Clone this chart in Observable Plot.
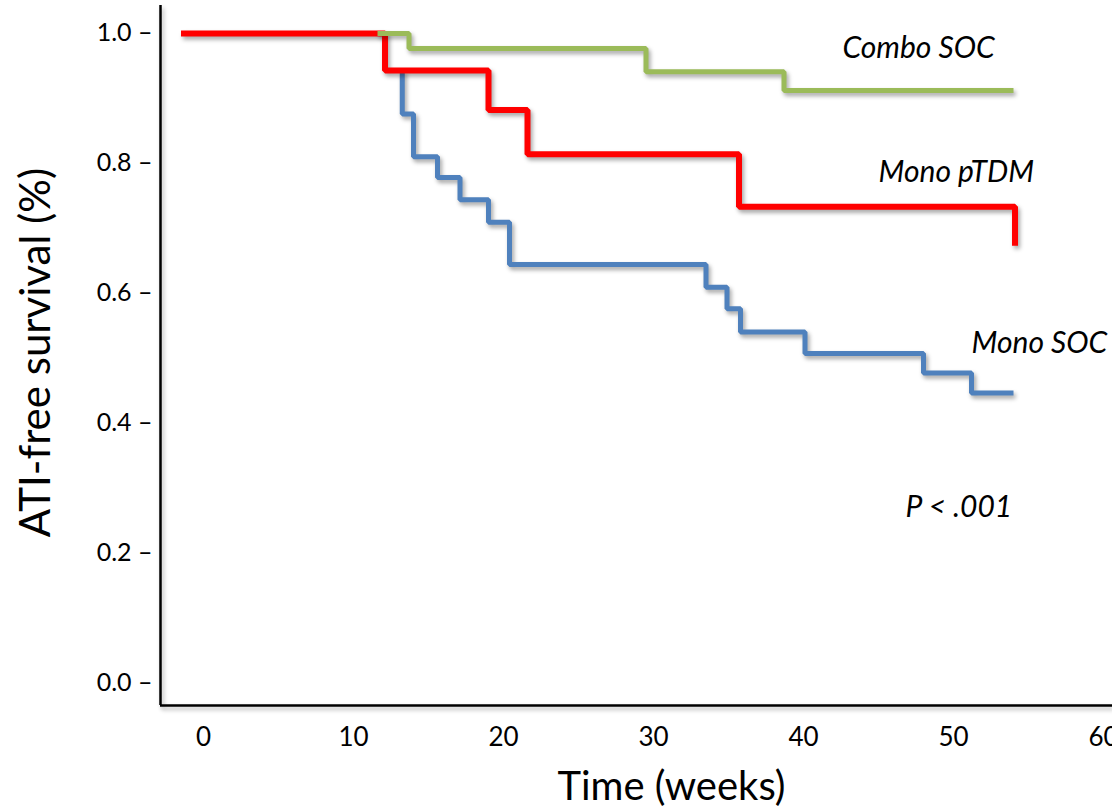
<!DOCTYPE html>
<html>
<head>
<meta charset="utf-8">
<script src="https://cdn.jsdelivr.net/npm/d3@7"></script>
<script src="https://cdn.jsdelivr.net/npm/@observablehq/plot@0.6"></script>
<style>
  html, body { margin: 0; padding: 0; background: #fff; }
  #chart svg { display: block; }
  #chart g[aria-label="line"] { filter: drop-shadow(2px 3px 2px rgba(0,0,0,0.35)); }
  #chart g[aria-label="rule"] { filter: drop-shadow(2px 3px 2px rgba(0,0,0,0.3)); }
</style>
</head>
<body>
<div id="chart"></div>
<script>
// Mono pTDM (red)
const pTDMTime = [-1.5, 12.1, 19.0, 21.6, 35.7, 54.1];
const pTDMSurv = [1.0, 0.943, 0.882, 0.814, 0.733, 0.673];
// Combo SOC (green)
const comboTime = [11.6, 13.7, 29.5, 38.7, 54.0];
const comboSurv = [1.0, 0.977, 0.941, 0.912, 0.912];
// Mono SOC (blue)
const monoSocTime = [13.25, 13.25, 14.0, 15.6, 17.1, 19.0, 20.4, 33.5, 34.9, 35.8, 40.1, 48.0, 51.2, 54.0];
const monoSocSurv = [0.943, 0.876, 0.810, 0.778, 0.744, 0.709, 0.644, 0.609, 0.576, 0.540, 0.507, 0.477, 0.446, 0.446];

const xTicks = [0, 10, 20, 30, 40, 50, 60];
const yTicks = [0.0, 0.2, 0.4, 0.6, 0.8, 1.0];

const seriesNames = ["Mono SOC", "Mono pTDM", "Combo SOC"];
const seriesColors = ["#4f81bd", "#ff0000", "#9bbb59"];

// annotation labels (data units)
const labelText = ["Combo SOC", "Mono pTDM", "Mono SOC", "P < .001"];
const labelWeek = [42.6, 45.0, 51.2, 46.8];
const labelSurv = [0.977, 0.786, 0.522, 0.270];

const toRows = (t, s, name) => t.map((d, i) => ({time: d, surv: s[i], series: name}));
const monoSoc = toRows(monoSocTime, monoSocSurv, "Mono SOC");
const pTDM = toRows(pTDMTime, pTDMSurv, "Mono pTDM");
const combo = toRows(comboTime, comboSurv, "Combo SOC");
const labels = labelText.map((t, i) => ({text: t, time: labelWeek[i], surv: labelSurv[i]}));

const xDomain = [-2.867, 60.6];
const yDomain = [-0.0354, 1.0431];

const lineOpts = {x: "time", y: "surv", stroke: "series", curve: "step-after", strokeLinejoin: "miter", strokeLinecap: "butt"};

const chart = Plot.plot({
  width: 1112,
  height: 808,
  marginLeft: 160,
  marginRight: 0,
  marginTop: 5,
  marginBottom: 103,
  style: {fontFamily: "Lato, 'Open Sans', sans-serif", fontSize: "26px", color: "#000", background: "#fff"},
  x: {domain: xDomain},
  y: {domain: yDomain},
  color: {domain: seriesNames, range: seriesColors},
  marks: [
    Plot.axisX({ticks: xTicks, tickSize: 0, tickPadding: 22, label: null, fontSize: 26, fill: "#000"}),
    Plot.axisY({ticks: yTicks, tickSize: 0, tickPadding: 8, label: null, fontSize: 25, fill: "#000", tickFormat: d => d.toFixed(1) + " \u2013"}),
    Plot.ruleX([xDomain[0]], {stroke: "#000", strokeWidth: 2.5}),
    Plot.ruleY([yDomain[0]], {stroke: "#000", strokeWidth: 2.5}),
    Plot.line(monoSoc, {...lineOpts, strokeWidth: 5}),
    Plot.line(pTDM, {...lineOpts, strokeWidth: 6}),
    Plot.line(combo, {...lineOpts, strokeWidth: 5}),
    Plot.text(labels, {x: "time", y: "surv", text: "text", textAnchor: "start", lineAnchor: "middle", fontSize: 30, fontStyle: "italic", fill: "#000"}),
    Plot.text(["Time (weeks)"], {frameAnchor: "bottom", text: d => d, textAnchor: "middle", dx: 35, dy: 82, fontSize: 40, lineAnchor: "middle", fill: "#000"}),
    Plot.text(["ATI-free survival (%)"], {frameAnchor: "left", text: d => d, textAnchor: "middle", rotate: -90, dx: -124, dy: -3, fontSize: 42, lineAnchor: "middle", fill: "#000"})
  ]
});
document.getElementById("chart").appendChild(chart);
</script>
</body>
</html>
